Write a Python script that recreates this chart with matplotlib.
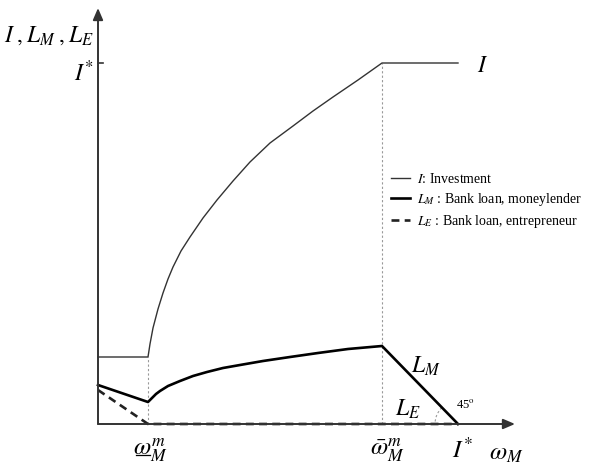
import matplotlib.pyplot as plt
from matplotlib.patches import Arc

plt.rcParams["font.family"] = "Liberation Serif"
plt.rcParams["mathtext.fontset"] = "stix"

# thresholds (x) and the investment ceiling (y), in drawing units
omega_lo = 50
omega_hi = 284
i_star_x = 360
i_star_y = 361

# I: investment
inv_x = [0, 50, 52, 55, 60, 65, 70, 75, 83, 92, 105, 119, 135, 152, 172, 195, 215,
         235, 260, 284, 360]
inv_y = [67, 67, 80, 96, 115, 131, 145, 157, 173, 187, 206, 224, 243, 262, 281, 298,
         313, 327, 344, 361, 361]

# L_M: bank loan to moneylender
lm_x = [0, 50, 54, 58, 62, 70, 82, 95, 109, 125, 142, 165, 192, 220, 250, 284, 360]
lm_y = [39, 22, 26, 30, 33, 38, 43, 48, 52, 56, 59, 63, 67, 71, 75, 78, 0]

# L_E: bank loan to entrepreneur
le_x = [0, 50, 360]
le_y = [34, 0, 0]

fig = plt.figure(figsize=(6.02, 4.68), dpi=100)
ax = fig.add_axes([0, 0, 1, 1])
ax.set_xlim(-98, 504)
ax.set_ylim(-44, 424)
ax.axis("off")

# axes with arrows
arrow = dict(arrowstyle="-|>,head_length=0.7,head_width=0.3", color="#333333", lw=1.4,
             shrinkA=0, shrinkB=0)
ax.annotate("", xy=(0, 416), xytext=(0, 0), arrowprops=arrow)
ax.annotate("", xy=(417, 0), xytext=(0, 0), arrowprops=arrow)
ax.plot([0, 5], [i_star_y, i_star_y], color="#333333", lw=1.2)

# guide lines
ax.plot([omega_lo, omega_lo], [0, inv_y[1]], color="#999999", lw=0.8, ls=(0, (2, 2)))
ax.plot([omega_hi, omega_hi], [0, i_star_y], color="#999999", lw=0.8, ls=(0, (2, 2)))

# curves
ax.plot(inv_x, inv_y, color="#333333", lw=1.0, label=r"$I$: Investment")
ax.plot(lm_x, lm_y, color="black", lw=1.9, label=r"$L_M$ : Bank loan, moneylender")
ax.plot(le_x, le_y, color="#222222", lw=1.9, dashes=(3, 2),
        label=r"$L_E$ : Bank loan, entrepreneur")

# 45 degree marker
ax.add_patch(Arc((i_star_x, 0), 46, 46, theta1=135, theta2=180, color="#999999",
                 lw=0.8, ls=(0, (2, 2))))
ax.text(367, 19, r"45$^{\rm o}$", fontsize=9, ha="center", va="center")

# labels
ax.text(-4, 388, r"$I\;,L_M\;,L_E$", fontsize=17, ha="right", va="center")
ax.text(-4, 351, r"$I^{*}$", fontsize=17, ha="right", va="center")
ax.text(385, 357, r"$I$", fontsize=17, ha="center", va="center")
ax.text(328, 58, r"$L_M$", fontsize=17, ha="center", va="center")
ax.text(310, 15, r"$L_E$", fontsize=17, ha="center", va="center")

ax.text(omega_lo + 2, -26, r"$\omega_M^m$", fontsize=18, ha="center", va="center")
ax.plot([omega_lo - 12, omega_lo + 2], [-31, -31], color="black", lw=0.9)
ax.text(omega_hi + 5, -26, r"$\bar{\omega}_M^m$", fontsize=18, ha="center", va="center")
ax.text(i_star_x + 4, -26, r"$I^{*}$", fontsize=18, ha="center", va="center")
ax.text(408, -30, r"$\omega_M$", fontsize=18, ha="center", va="center")

ax.legend(loc="upper left", bbox_to_anchor=(293, 252), bbox_transform=ax.transData,
          frameon=False, fontsize=10, handlelength=1.4, handletextpad=0.5,
          labelspacing=0.35, borderpad=0, borderaxespad=0)

fig.savefig("out.png", dpi=100)
